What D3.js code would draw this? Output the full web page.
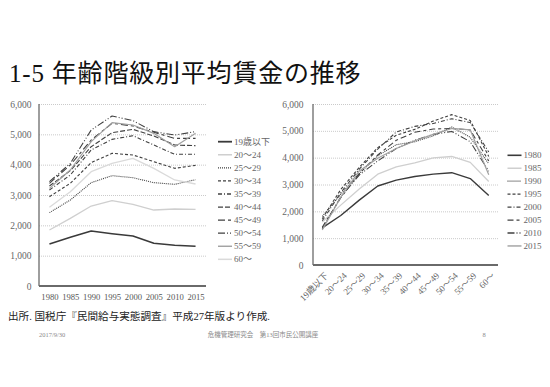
<!DOCTYPE html>
<html><head><meta charset="utf-8">
<script src="https://cdn.jsdelivr.net/npm/d3@7"></script>
<style>
body{margin:0;background:#fff}
text{font-family:"Liberation Serif","Noto Sans CJK JP",serif}
</style>
</head><body><svg id="c" width="550" height="387"></svg>
<script>
// ---- data (thousand yen) ----
const years = ["1980","1985","1990","1995","2000","2005","2010","2015"];
const ageGroups = ["19歳以下","20～24","25～29","30～34","35～39","40～44","45～49","50～54","55～59","60～"];
const yTicks = [0,1000,2000,3000,4000,5000,6000];
const age19 = [1385,1604,1813,1725,1648,1407,1341,1308];
const age20 = [1846,2231,2637,2813,2692,2505,2538,2527];
const age25 = [2418,2835,3407,3637,3571,3407,3352,3505];
const age30 = [2945,3385,4066,4374,4319,4099,3879,3978];
const age35 = [3165,3659,4484,4835,4956,4648,4341,4341];
const age40 = [3297,3802,4593,5055,5165,4945,4648,4626];
const age45 = [3385,3989,4813,5363,5275,5066,4868,4868];
const age50 = [3440,4044,5143,5604,5451,5088,4978,5088];
const age55 = [3220,3824,4758,5385,5308,5033,4593,5033];
const age60 = [2593,3110,3769,4044,4209,3879,3495,3363];
const seriesByAge = [age19,age20,age25,age30,age35,age40,age45,age50,age55,age60];

// ---- styles ----
const ageStyles = [
  {c:"#3a3a3a",w:1.6,d:null},
  {c:"#cfcfcf",w:1.3,d:null},
  {c:"#404040",w:1.1,d:"1,1"},
  {c:"#404040",w:1.1,d:"3,2"},
  {c:"#404040",w:1.1,d:"4,2,1,2"},
  {c:"#404040",w:1.1,d:"5,2"},
  {c:"#404040",w:1.1,d:"7,3,3,3"},
  {c:"#404040",w:1.1,d:"7,2,1,2,1,2"},
  {c:"#a0a0a0",w:1.2,d:null},
  {c:"#dadada",w:1.3,d:null}
];
const yearStyles = [
  {c:"#3a3a3a",w:1.4,d:null},
  {c:"#cfcfcf",w:1.3,d:null},
  {c:"#404040",w:1.1,d:"1,1"},
  {c:"#404040",w:1.1,d:"3,2"},
  {c:"#404040",w:1.1,d:"4,2,1,2"},
  {c:"#404040",w:1.1,d:"6,3,3,3"},
  {c:"#404040",w:1.1,d:"7,2,1,2,1,2"},
  {c:"#a0a0a0",w:1.2,d:null}
];

const svg = d3.select("#c");
svg.append("rect").attr("width",550).attr("height",387).attr("fill","#fff");

// title
svg.append("text").attr("x",9).attr("y",82).attr("font-size",25).attr("letter-spacing",0.8).attr("fill","#111")
  .text("1-5 年齢階級別平均賃金の推移");

function drawChart(opt){
  const {x0,x1,y0,y1,cats,series,styles,rotate,labelEnd} = opt;
  const g = svg.append("g");
  const x = d3.scalePoint().domain(cats).range([x0,x1]).padding(0.5);
  const y = d3.scaleLinear().domain([0,6000]).range([y0,y1]);
  // grid
  g.append("g").attr("transform",`translate(${x0},0)`)
    .call(d3.axisLeft(y).tickValues(yTicks.filter(t=>t>0)).tickSize(-(x1-x0)).tickFormat(""))
    .call(a=>a.select(".domain").remove())
    .call(a=>a.selectAll("line").attr("stroke","#bdbdbd").attr("stroke-width",0.8).attr("stroke-dasharray","1,1"));
  // y labels
  g.append("g").attr("transform",`translate(${labelEnd},0)`)
    .call(d3.axisLeft(y).tickValues(yTicks).tickSize(0).tickPadding(0).tickFormat(d3.format(",")))
    .call(a=>a.select(".domain").remove())
    .call(a=>a.selectAll("text").attr("font-size",9.5).attr("fill","#666").style("font-family",'"Liberation Serif",serif'));
  // lines
  const line = d3.line().x((d,i)=>x(cats[i])).y(d=>y(d));
  series.forEach((s,k)=>{
    const st = styles[k];
    g.append("path").datum(s).attr("d",line).attr("fill","none")
      .attr("stroke",st.c).attr("stroke-width",st.w)
      .attr("stroke-dasharray",st.d).attr("stroke-linejoin","round");
  });
  // axes lines
  g.append("line").attr("x1",x0).attr("x2",x0).attr("y1",y1).attr("y2",y0)
    .attr("stroke","#6a6a6a").attr("stroke-width",1.3);
  g.append("line").attr("x1",x0).attr("x2",x1).attr("y1",y0).attr("y2",y0)
    .attr("stroke","#6a6a6a").attr("stroke-width",1.8);
  // x labels
  const xa = g.append("g").attr("transform",`translate(0,${y0})`)
    .call(d3.axisBottom(x).tickSize(0).tickPadding(0))
    .call(a=>a.select(".domain").remove());
  if(rotate){
    xa.selectAll("text").attr("font-size",9).attr("fill","#666")
      .attr("text-anchor","end").attr("y",0).attr("dy","0.35em")
      .attr("transform","translate(4,9) rotate(-45)");
  } else {
    xa.selectAll("text").attr("font-size",8.6).attr("fill","#555").attr("y",14).attr("dy","0")
      .style("font-family",'"Liberation Serif",serif');
  }
  return {x,y};
}

drawChart({x0:39,x1:206,y0:286,y1:104,cats:years,series:seriesByAge,styles:ageStyles,rotate:false,labelEnd:31.5});

// right chart: one series per year across age groups
const seriesByYear = years.map((yr,j)=>seriesByAge.map(s=>s[j]));
drawChart({x0:313,x1:498,y0:265,y1:104,cats:ageGroups,series:seriesByYear,styles:yearStyles,rotate:true,labelEnd:303.5});

// legends
function legend(items,styles,lx,ly,step){
  items.forEach((t,i)=>{
    const yy = ly + i*step;
    const st = styles[i];
    svg.append("line").attr("x1",lx).attr("x2",lx+14).attr("y1",yy).attr("y2",yy)
      .attr("stroke",st.c).attr("stroke-width",st.w+0.2).attr("stroke-dasharray",st.d);
    svg.append("text").attr("x",lx+16).attr("y",yy).attr("dy","0.35em")
      .attr("font-size",9).attr("fill","#666").text(t);
  });
}
legend(ageGroups,ageStyles,218,141.7,13.07);
legend(years,yearStyles,507.5,155.3,12.95);

// source & footer
svg.append("text").attr("x",8).attr("y",319.5).attr("font-size",10.6).attr("fill","#222")
  .text("出所. 国税庁『民間給与実態調査』平成27年版より作成.");
svg.append("text").attr("x",39).attr("y",336.5).attr("font-size",6.5).attr("fill","#8a8a8a").text("2017/9/30");
svg.append("text").attr("x",263).attr("y",336.5).attr("font-size",6.5).attr("fill","#8a8a8a")
  .attr("text-anchor","middle").text("危機管理研究会　第13回市民公開講座");
svg.append("text").attr("x",484).attr("y",336.5).attr("font-size",6.5).attr("fill","#8a8a8a")
  .attr("text-anchor","middle").text("8");
</script>
</body></html>
